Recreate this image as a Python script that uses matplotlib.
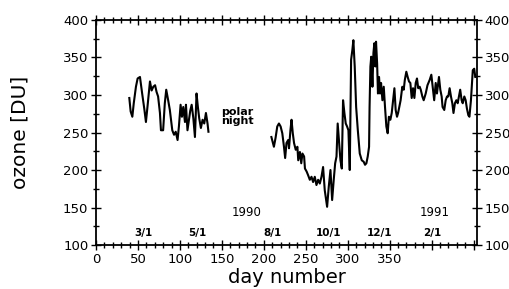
import matplotlib
matplotlib.use("Agg")
import matplotlib.pyplot as plt
from matplotlib.ticker import MultipleLocator, FuncFormatter

# ozone before polar night (day of year 1990)
day_a = [39.7, 41.3, 43.3, 45, 47.6, 49.6, 52.4, 55, 57.5, 59.5, 61.5, 64.3, 66.3, 68.3,
         70.4, 72.2, 74, 76.2, 77.4, 80, 82, 83.7, 86, 88, 90.9, 93, 95, 97.2, 98.8,
         100.8, 102.4, 104, 106, 107.2, 109, 112.3, 114, 116, 117.9, 119.8, 121.4, 123,
         125, 127, 129, 131, 132.9, 134]
ozone_a = [296, 278, 271, 289, 311, 322, 324, 302, 282, 264, 286, 318, 306, 311,
           313, 304, 298, 276, 253, 253, 289, 307, 293, 280, 253, 247, 251, 240, 258,
           287, 271, 284, 264, 287, 253, 279, 287, 269, 244, 302, 284, 269,
           256, 267, 262, 276, 262, 251]

# ozone after polar night (days counted on from 1 Jan 1990)
day_b = [209, 212, 214, 216, 218, 220, 222, 224, 225.4, 227, 229, 230, 231.7, 233, 234.5,
         236, 238, 240, 241, 243, 244.6, 246, 248, 249, 251, 252.8, 254.8, 256.8, 258.7,
         260.7, 262.7, 264.7, 266.7, 268.7, 270.6, 272.6, 275.4, 277.4, 279.4, 281.4,
         283.3, 285, 286.6, 288, 289.7, 291.3, 292.9, 294.4, 296, 297.6, 299.2, 300.8,
         302.4, 304, 305.5, 306.7, 308.3, 310, 312, 314.3, 316.7, 319, 320.6, 322.2,
         323.8, 325.4, 326, 327, 328, 329.4, 330.6, 331.7, 332.9, 333.7, 335, 336,
         337.3, 338.5, 339.7, 341.3, 342.9, 344.4, 346, 347.6, 349, 350.8, 352.4, 354,
         355.6, 357.1, 358.7, 360, 363, 365, 366.7, 368, 369.8, 371.4, 373, 374.6,
         376.2, 377.8, 379.4, 381, 382.5, 384, 385.7, 387, 388.9, 390.5, 392.9, 395,
         397.6, 399.6, 401.6, 403, 404.8, 406.3, 408.7, 410.3, 411.9, 413, 415, 416.7,
         418.3, 419.8, 421.4, 423, 424.6, 426, 427.7, 429.4, 431, 432.5, 434, 435.7,
         437, 438.9, 440.5, 442, 443.7, 445, 446.8, 448, 449, 450.7, 452]
ozone_b = [244, 231, 243, 258, 262, 258, 249, 231, 216, 236, 240, 229, 253, 267, 249,
           236, 227, 231, 213, 224, 209, 222, 218, 202, 198, 193, 187, 191, 184,
           191, 180, 187, 182, 191, 204, 173, 151, 178, 200, 160,
           187, 209, 218, 262, 236, 213, 202, 293, 276, 262, 258, 253,
           200, 347, 360, 373, 338, 284, 253, 222, 213, 211, 207, 209,
           218, 231, 284, 338, 351, 311, 356, 369, 338, 371, 342, 302,
           324, 302, 316, 293, 311, 284, 258, 249, 271, 267, 276, 293,
           309, 280, 271, 276, 293, 311, 307, 320, 331, 324, 318, 316,
           296, 309, 296, 316, 322, 309, 311, 307, 298, 293, 302, 313,
           320, 327, 307, 293, 316, 302, 324, 307, 298, 284, 280, 293,
           298, 298, 309, 298, 289, 276, 289, 293, 289, 298, 307, 293,
           289, 298, 293, 282, 273, 271, 293, 316, 333, 335, 324]

# month labels along the bottom
month_days = [57, 121, 210, 277, 338, 401]
month_labels = ["3/1", "5/1", "8/1", "10/1", "12/1", "2/1"]

fig = plt.figure(figsize=(5.09, 2.89), dpi=100)
ax = fig.add_axes([0.1886, 0.152, 0.7485, 0.779])

ax.plot(day_a, ozone_a, color="black", lw=1.5)
ax.plot(day_b, ozone_b, color="black", lw=1.5)

ax.set_xlim(0, 454)
ax.set_ylim(100, 400)

ax.xaxis.set_major_locator(MultipleLocator(50))
ax.xaxis.set_minor_locator(MultipleLocator(10))
ax.yaxis.set_major_locator(MultipleLocator(50))
ax.yaxis.set_minor_locator(MultipleLocator(25))
ax.xaxis.set_major_formatter(FuncFormatter(lambda v, p: "%d" % v if v <= 350 else ""))

ax.tick_params(which="both", direction="inout", top=True, right=True,
               labelright=True, width=1.0)
ax.tick_params(which="major", length=7, labelsize=9.5, pad=2)
ax.tick_params(which="minor", length=4)
for s in ax.spines.values():
    s.set_linewidth(1.3)

for d, lab in zip(month_days, month_labels):
    ax.text(d, 116, lab, ha="center", va="center", fontsize=7.5, fontweight="bold")
ax.text(168, 271, "polar\nnight", ha="center", va="center", fontsize=8,
        fontweight="bold", linespacing=0.85)
ax.text(180, 144, "1990", ha="center", va="center", fontsize=8.5)
ax.text(404, 144, "1991", ha="center", va="center", fontsize=8.5)

ax.set_xlabel("day number", fontsize=14, labelpad=2)
ax.set_ylabel("ozone [DU]", fontsize=14.5, labelpad=24)

fig.savefig("out.png", dpi=100)
